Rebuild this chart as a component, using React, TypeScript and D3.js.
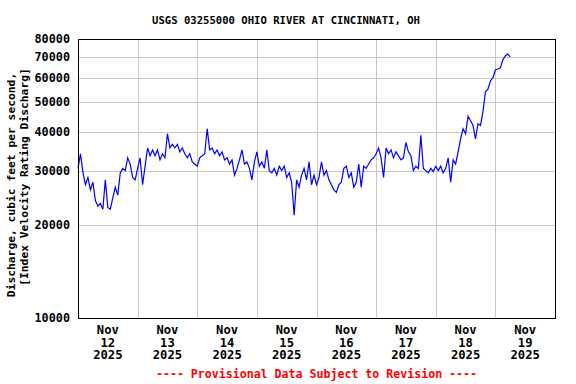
import React from 'react';
import * as d3 from 'd3';

// hourly discharge readings (cfs), starting Nov 12 2025 00:00
const startTime = new Date(2025, 10, 12, 0, 0);
const discharge = [
  30500, 34000, 29500, 27000, 28500, 26000, 27500, 24000, 23000, 23500,
  22500, 28000, 22800, 22500, 24500, 26500, 25000, 29500, 30500, 30000,
  33000, 31500, 28500, 28000, 30500, 33000, 27000, 31000, 35500, 33500,
  35000, 33500, 35000, 32500, 34000, 33000, 39500, 35500, 36500, 35500,
  36500, 34500, 35500, 34000, 33000, 34000, 32000, 31500, 31000, 33000,
  33500, 34000, 41000, 35000, 35500, 34000, 35000, 33500, 34500, 32500,
  33000, 31500, 32500, 29000, 30500, 32500, 35000, 31500, 32000, 30500,
  28000, 32000, 34500, 31000, 32000, 30500, 35000, 30000, 29500, 30500,
  29000, 31000, 30000, 31000, 28500, 29500, 27500, 21500, 28000, 26500,
  29000, 30500, 28000, 32000, 27000, 29000, 27000, 28500, 32000, 29000,
  30000, 28000, 27000, 26000, 25500, 27000, 27500, 30500, 31000, 28500,
  29500, 26500, 27500, 31500, 26500, 31000, 30500, 31500, 32500, 33000,
  34000, 35500, 33000, 28500, 35500, 34000, 35000, 33000, 34500, 33500,
  32500, 33000, 37000, 34500, 33500, 30000, 31000, 30500, 39000, 30500,
  30000, 29500, 30500, 29800, 31000, 30000, 31000, 29500, 30500, 33000,
  27500, 32500, 31500, 34500, 38000, 41000, 39500, 45000, 43500, 42000,
  38000, 42500, 42000, 46500, 54000, 55000, 58500, 60000, 63500, 64000,
  64500, 68500, 70500, 71500, 70000,
];

const yTicks = [10000, 20000, 30000, 40000, 50000, 60000, 70000, 80000];
const dayLabels = ['12', '13', '14', '15', '16', '17', '18', '19'];
const monthLabel = 'Nov';
const yearLabel = '2025';

const title = 'USGS 03255000 OHIO RIVER AT CINCINNATI, OH';
const yTitle1 = 'Discharge, cubic feet per second,';
const yTitle2 = '[Index Velocity Rating Discharg]';
const footer = '---- Provisional Data Subject to Revision ----';

const W = 576;
const H = 384;
const left = 78;
const right = 555;
const top = 39;
const bottom = 318;
const mono = '"DejaVu Sans Mono", monospace';

export default function App() {
  const points = discharge.map((v, i) => ({ t: d3.timeHour.offset(startTime, i), v }));

  const x = d3.scaleTime()
    .domain([startTime, d3.timeDay.offset(startTime, 8)])
    .range([left, right]);
  const y = d3.scaleLog().domain([10000, 80000]).range([bottom, top]);

  const line = d3.line<{ t: Date; v: number }>()
    .x(d => x(d.t))
    .y(d => y(d.v));

  const days = d3.timeDay.range(startTime, d3.timeDay.offset(startTime, 8));

  return (
    <svg
      width={W}
      height={H}
      style={{ position: 'absolute', left: 0, top: 0, background: '#fff' }}
    >
      <rect x={0} y={0} width={W} height={H} fill="#fff" />
      <text x={286} y={24} textAnchor="middle" fontFamily={mono} fontWeight="bold" fontSize={10.6}>
        {title}
      </text>

      {/* grid */}
      {yTicks.slice(1, -1).map(v => (
        <line key={'h' + v} x1={left} x2={right} y1={Math.round(y(v)) + 0.5} y2={Math.round(y(v)) + 0.5}
          stroke="#c8c8c8" strokeWidth={1} />
      ))}
      {days.slice(1).map(d => (
        <line key={'v' + d.getTime()} y1={top} y2={bottom} x1={Math.round(x(d)) + 0.5} x2={Math.round(x(d)) + 0.5}
          stroke="#c8c8c8" strokeWidth={1} />
      ))}

      <path d={line(points) || ''} fill="none" stroke="#0000ff" strokeWidth={1.2} strokeLinejoin="miter" />

      <rect x={left + 0.5} y={top + 0.5} width={right - left} height={bottom - top}
        fill="none" stroke="#000" strokeWidth={1} />

      {/* y tick labels */}
      {yTicks.map(v => (
        <text key={'yt' + v} x={70} y={y(v)} dy="0.35em" textAnchor="end"
          fontFamily={mono} fontWeight="bold" fontSize={11.8}>
          {String(v)}
        </text>
      ))}

      {/* x tick labels, centred on each day */}
      {days.map((d, i) => {
        const cx = x(d3.timeHour.offset(d, 12));
        return (
          <text key={'xt' + i} x={cx} textAnchor="middle" fontFamily={mono} fontWeight="bold" fontSize={12.2}>
            <tspan x={cx} y={334}>{monthLabel}</tspan>
            <tspan x={cx} y={346.5}>{dayLabels[i]}</tspan>
            <tspan x={cx} y={359}>{yearLabel}</tspan>
          </text>
        );
      })}

      {/* y axis title */}
      <text transform="translate(15,185) rotate(-90)" textAnchor="middle"
        fontFamily={mono} fontWeight="bold" fontSize={11.3}>
        {yTitle1}
      </text>
      <text transform="translate(27.5,177) rotate(-90)" textAnchor="middle"
        fontFamily={mono} fontWeight="bold" fontSize={11.3}>
        {yTitle2}
      </text>

      <text x={(left + right) / 2} y={378} textAnchor="middle" fill="#ff0000"
        fontFamily={mono} fontWeight="bold" fontSize={11.6}>
        {footer}
      </text>
    </svg>
  );
}
